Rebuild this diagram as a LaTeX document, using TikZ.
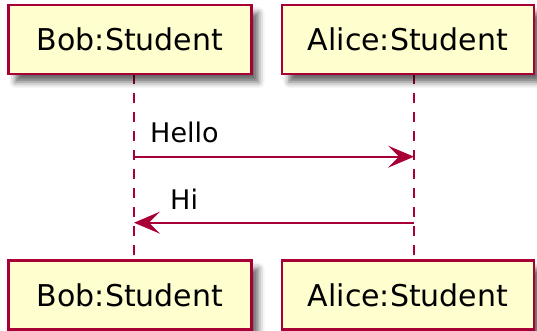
\documentclass[tikz,border=0pt]{standalone}
\usepackage{fontspec}
\setmainfont{DejaVu Sans}
\usetikzlibrary{arrows.meta,shadows.blur}
\definecolor{pumlred}{HTML}{A80036}
\definecolor{pumlfill}{HTML}{FEFECE}
\tikzset{
  x=1pt,y=1pt,
  participant/.style={draw=pumlred, fill=pumlfill, line width=2.5pt,
    minimum height=69pt, inner sep=0pt, font=\fontsize{30}{36}\selectfont,
    blur shadow={shadow xshift=7pt, shadow yshift=-8pt, shadow blur radius=6pt, shadow opacity=60}},
  lifeline/.style={draw=pumlred, line width=2pt, dash pattern=on 10pt off 9pt},
  msg/.style={draw=pumlred, line width=2pt, -{Stealth[length=26pt,width=22pt,inset=11pt]}},
  msglabel/.style={anchor=base west, inner sep=0pt, font=\fontsize{27}{32}\selectfont}
}
\begin{document}
\begin{tikzpicture}
\useasboundingbox (0,0) rectangle (537,-331);
% lifelines
\coordinate (bobL1) at (134,-74);
\coordinate (bobL2) at (134,-261);
\coordinate (aliceL1) at (414,-74);
\coordinate (aliceL2) at (414,-261);
\draw[lifeline] (bobL1) -- (bobL2);
\draw[lifeline] (aliceL1) -- (aliceL2);
% participants
\node[participant, minimum width=243pt] (bobtop) at (130,-39.5) {Bob:Student};
\node[participant, minimum width=252pt] (alicetop) at (408,-39.5) {Alice:Student};
\node[participant, minimum width=243pt] (bobbot) at (130,-295) {Bob:Student};
\node[participant, minimum width=252pt] (alicebot) at (408,-295) {Alice:Student};
% messages
\coordinate (m1s) at (134,-156.7);
\coordinate (m1e) at (414,-156.7);
\coordinate (m2s) at (414,-222.7);
\coordinate (m2e) at (134,-222.7);
\draw[msg] (m1s) -- (m1e);
\draw[msg] (m2s) -- (m2e);
\node[msglabel] (hello) at (150,-142.7) {Hello};
\node[msglabel] (hi) at (170,-209.3) {Hi};
\end{tikzpicture}
\end{document}
